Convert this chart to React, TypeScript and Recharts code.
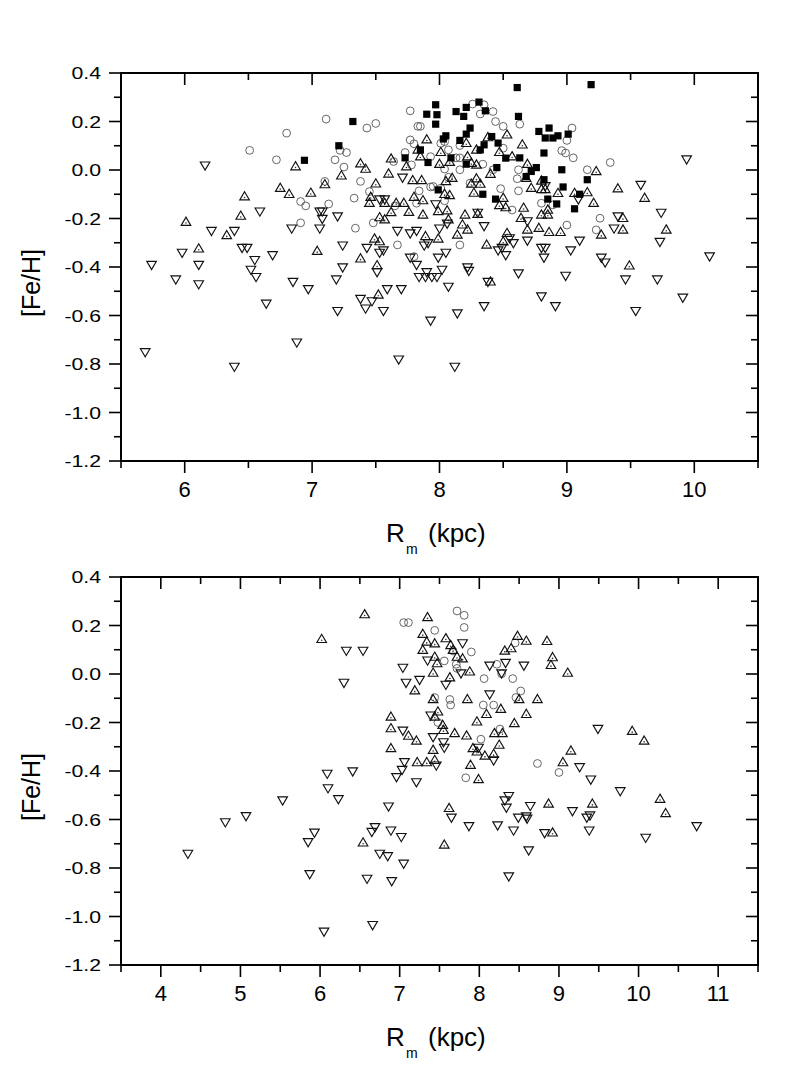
import React from 'react';
import { ScatterChart, Scatter, XAxis, YAxis, ReferenceArea } from 'recharts';

type P = [number, number];

// ---------- Upper panel ----------
const topCircles: P[] = [
  [6.51,0.081],[6.80,0.152],[6.72,0.042],[7.11,0.21],[7.43,0.173],[7.50,0.192],[7.18,0.042],[7.22,0.081],
  [7.27,0.072],[7.25,0.012],[7.10,-0.047],[7.13,-0.14],[6.91,-0.13],[6.95,-0.148],[6.91,-0.218],[7.34,-0.24],
  [7.33,-0.116],[7.38,-0.047],[7.45,-0.089],[7.48,-0.218],[7.67,-0.309],[7.64,0.035],[7.65,-0.148],[7.77,0.244],
  [7.83,0.18],[7.85,0.18],[7.77,0.124],[7.80,0.108],[7.73,0.072],[7.78,0.021],[7.84,-0.086],[7.82,-0.137],
  [7.80,-0.357],[7.93,-0.07],[7.93,0.055],
  [8.01,0.11],[8.04,0.117],[8.07,0.083],[8.16,0.101],[8.13,0.05],[8.16,0.05],[8.04,0.004],[8.16,0.001],
  [8.26,0.272],[8.32,0.231],[8.35,0.269],[8.42,0.241],[8.44,0.2],[8.50,0.18],[8.50,0.09],[8.34,0.024],
  [8.42,0.001],[8.07,-0.03],[7.95,-0.068],[8.01,-0.075],[8.04,-0.127],[8.16,-0.309],[8.24,-0.054],[8.48,-0.077],
  [8.63,0.189],[9.04,0.173],[9.00,0.122],[8.96,0.08],[8.99,0.07],[9.05,0.05],[9.34,0.031],[9.16,0.001],
  [8.62,0.001],[8.61,-0.036],[8.62,-0.086],[8.80,-0.137],[8.89,-0.144],[9.26,-0.199],[9.00,-0.227],[9.23,-0.247],
  [8.57,-0.165],
];

const topSquares: P[] = [
  [7.32,0.20],[7.21,0.10],[6.94,0.04],[7.90,0.23],[7.73,0.05],[7.85,0.083],[7.91,0.031],
  [7.97,0.269],[7.98,0.228],[7.97,0.189],[8.13,0.241],[8.21,0.258],[8.19,0.221],[8.31,0.28],[8.36,0.244],
  [8.24,0.173],[8.21,0.148],[8.05,0.141],[8.03,0.128],[8.16,0.122],[8.41,0.138],[8.46,0.111],[8.35,0.104],
  [8.32,0.083],[8.09,0.05],[8.21,0.024],[8.52,0.049],[8.45,0.01],[7.99,-0.082],[8.34,-0.10],[8.44,-0.12],
  [8.61,0.34],[9.19,0.352],[8.62,0.221],[8.78,0.159],[8.86,0.173],[8.83,0.132],[8.89,0.132],[8.93,0.141],
  [9.01,0.148],[8.82,0.07],[8.63,0.05],[8.76,0.01],[8.72,-0.006],[8.96,0.001],[9.16,-0.04],[8.82,-0.04],
  [8.97,-0.07],[9.10,-0.10],[8.85,-0.12],[8.92,-0.14],[9.06,-0.16],[8.68,-0.027],
];

const topUp: P[] = [
  [6.01,-0.215],[6.11,-0.325],[6.33,-0.27],[6.44,-0.19],[6.47,-0.11],[6.75,-0.075],[6.82,-0.10],[6.87,0.014],
  [6.99,-0.095],[7.04,-0.335],[7.10,-0.06],[7.23,-0.024],[7.38,0.026],[7.42,0.004],[7.50,-0.057],[7.38,-0.366],
  [7.45,-0.137],[7.46,-0.112],[7.49,-0.284],[7.53,-0.295],[7.51,-0.394],[7.52,-0.515],[7.53,-0.196],[7.57,-0.205],
  [7.57,-0.137],[7.60,-0.016],[7.62,-0.175],[7.62,0.046],[7.66,-0.137],[7.72,-0.137],[7.74,0.014],[7.76,-0.174],
  [7.79,-0.043],[7.86,-0.043],[7.80,-0.112],[7.87,-0.126],[7.87,-0.185],[7.83,0.083],[7.85,0.055],[7.90,0.125],
  [7.89,-0.274],
  [8.01,0.073],[8.00,0.024],[8.08,0.032],[8.21,0.11],[8.22,0.055],[8.29,0.083],[8.38,0.134],[8.53,0.145],
  [8.47,0.073],[8.25,0.028],[8.29,0.021],[8.40,-0.017],[8.10,-0.034],[8.05,-0.047],[8.04,-0.10],[8.08,-0.105],
  [8.29,-0.036],[8.25,-0.058],[8.32,-0.058],[8.27,-0.095],[8.50,-0.116],[8.47,-0.146],[8.52,-0.155],[7.99,-0.171],
  [8.06,-0.168],[8.07,-0.205],[8.20,-0.185],[8.30,-0.182],[8.18,-0.226],[8.22,-0.247],[8.14,-0.268],[7.99,-0.284],
  [8.37,-0.309],[8.53,-0.261],[8.50,-0.296],[8.40,-0.461],
  [8.65,0.104],[8.57,0.055],[8.69,0.024],[8.68,-0.034],[8.72,-0.075],[8.80,-0.045],[8.80,-0.08],[8.83,-0.08],
  [8.93,-0.096],[9.06,-0.096],[9.16,-0.093],[9.23,-0.006],[9.21,-0.137],[9.40,-0.077],[8.66,-0.157],[8.64,-0.199],
  [8.69,-0.247],[8.78,-0.24],[8.86,-0.257],[8.95,-0.257],[8.80,-0.185],[8.85,-0.185],[8.85,-0.165],[9.27,-0.268],
  [9.44,-0.199],[9.44,-0.247],[9.49,-0.395],[9.61,-0.116],[9.78,-0.247],
];

const topDown: P[] = [
  [6.16,0.02],[5.74,-0.39],[5.93,-0.45],[5.98,-0.34],[6.11,-0.39],[6.11,-0.47],[5.69,-0.75],[6.39,-0.81],
  [6.21,-0.25],[6.39,-0.25],[6.59,-0.17],[6.45,-0.32],[6.49,-0.32],[6.55,-0.37],[6.52,-0.41],[6.56,-0.44],
  [6.69,-0.35],[6.64,-0.55],[6.84,-0.24],[6.85,-0.46],[6.97,-0.49],[6.88,-0.71],[7.06,-0.17],[7.08,-0.17],
  [7.08,-0.2],[7.06,-0.24],[7.20,-0.19],[7.24,-0.31],[7.24,-0.4],[7.19,-0.45],[7.20,-0.58],[7.43,-0.32],
  [7.38,-0.53],[7.42,-0.57],[7.56,-0.58],[7.53,-0.34],[7.56,-0.33],[7.51,-0.42],[7.70,-0.49],[7.68,-0.78],
  [7.67,-0.25],[7.71,-0.03],[7.53,-0.12],[7.57,-0.12],[7.77,-0.26],[7.82,-0.25],[7.77,-0.36],[7.82,-0.39],
  [7.84,-0.44],[7.89,-0.44],[7.90,-0.42],[7.91,-0.3],[7.93,-0.62],[7.47,-0.54],[7.59,-0.49],
  [7.88,-0.31],[8.00,-0.24],[8.06,-0.22],[7.97,-0.14],[7.99,-0.36],[8.05,-0.34],[7.94,-0.44],[7.98,-0.44],
  [8.02,-0.41],[8.07,-0.48],[8.22,-0.4],[8.23,-0.415],[8.38,-0.46],[8.14,-0.59],[8.35,-0.56],[8.30,-0.175],
  [8.35,-0.23],[8.46,-0.33],[8.49,-0.32],[8.52,-0.35],
  [9.58,-0.06],[8.83,-0.065],[9.09,-0.12],[8.69,-0.21],[8.69,-0.29],[8.80,-0.32],[8.83,-0.32],[8.82,-0.36],
  [9.03,-0.33],[9.10,-0.29],[9.27,-0.36],[9.30,-0.38],[9.37,-0.24],[9.40,-0.19],[8.55,-0.28],[8.58,-0.30],
  [8.62,-0.425],[8.99,-0.435],[9.46,-0.45],[8.80,-0.52],[8.91,-0.56],[9.54,-0.58],
  [9.94,0.045],[9.74,-0.175],[9.73,-0.295],[10.12,-0.355],[9.71,-0.45],[9.91,-0.525],[8.12,-0.81],
];

// ---------- Lower panel ----------
const botCircles: P[] = [
  [7.05,0.212],[7.11,0.212],[7.72,0.26],[7.81,0.242],[7.81,0.192],[7.44,0.18],[7.90,0.091],[7.56,0.054],
  [7.71,0.04],[7.72,0.023],[8.06,-0.019],[8.22,0.04],[8.28,0.001],[8.42,-0.019],[8.52,-0.07],[8.46,-0.097],
  [7.63,-0.105],[7.64,-0.128],[7.44,-0.097],[8.05,-0.128],[8.18,-0.128],[7.48,-0.2],[8.26,-0.227],[8.02,-0.269],
  [8.73,-0.369],[9.00,-0.406],[7.83,-0.428],[7.67,0.095],[8.45,0.128],
];

const botUp: P[] = [
  [6.02,0.143],[6.56,0.245],[7.29,0.164],[7.35,0.233],[7.34,0.132],[7.29,0.098],[7.19,-0.069],[6.89,-0.177],
  [6.89,-0.225],[6.89,-0.307],[7.11,-0.256],[7.21,-0.276],[7.22,-0.365],[7.34,-0.365],[6.54,-0.696],
  [7.58,0.146],[7.44,0.125],[7.64,0.118],[7.44,0.07],[7.47,0.043],[7.67,0.098],[7.72,0.07],[7.79,0.063],
  [7.42,0.004],[7.63,-0.015],[7.88,0.009],[8.48,0.156],[8.59,0.136],[8.85,0.135],[8.32,0.095],[8.40,0.105],
  [8.92,0.068],[8.90,0.036],[9.11,0.004],[7.42,-0.105],[7.85,-0.105],[8.50,-0.105],[8.73,-0.105],[8.27,-0.145],
  [8.09,-0.166],[8.59,-0.166],[7.48,-0.156],[7.44,-0.177],[7.97,-0.197],[8.44,-0.204],[7.54,-0.211],[7.55,-0.232],
  [7.69,-0.245],[7.84,-0.255],[8.19,-0.245],[8.29,-0.245],[8.25,-0.293],[7.92,-0.307],[7.97,-0.321],[8.07,-0.338],
  [8.18,-0.331],[7.42,-0.314],[7.44,-0.356],[7.89,-0.376],[7.99,-0.435],[9.15,-0.317],[9.05,-0.365],[9.92,-0.236],
  [10.07,-0.276],[7.62,-0.554],[8.87,-0.536],[9.42,-0.536],[10.27,-0.516],[10.34,-0.575],[8.92,-0.655],[7.56,-0.705],
];

const botDown: P[] = [
  [4.34,-0.74],[4.81,-0.61],[5.07,-0.585],[5.53,-0.52],[6.09,-0.41],[6.10,-0.47],[6.23,-0.515],[6.41,-0.40],
  [6.33,0.097],[6.54,0.097],[6.30,-0.035],[5.93,-0.653],[5.85,-0.692],[5.87,-0.824],[6.05,-1.061],[6.66,-1.034],
  [6.59,-0.843],[6.69,-0.63],[6.65,-0.65],[6.86,-0.545],[6.89,-0.644],[6.75,-0.74],[6.85,-0.75],[6.90,-0.853],
  [7.02,-0.671],[7.05,-0.781],[7.04,0.027],[7.08,-0.035],[7.25,-0.023],[7.35,0.057],[7.04,-0.232],[7.06,-0.362],
  [7.03,-0.394],[6.96,-0.424],[7.21,-0.445],
  [7.79,0.128],[7.77,0.004],[7.58,-0.043],[8.13,0.036],[8.33,0.047],[8.56,0.036],[8.28,0.004],[8.13,-0.083],
  [7.42,-0.259],[7.55,-0.28],[7.56,-0.303],[7.99,-0.303],[8.18,-0.355],[9.49,-0.225],[9.26,-0.383],[9.40,-0.434],
  [9.77,-0.482],[8.37,-0.502],[8.32,-0.52],[8.34,-0.55],[8.64,-0.543],[8.49,-0.591],[8.59,-0.586],[8.60,-0.595],
  [7.65,-0.591],[7.87,-0.626],[8.23,-0.623],[8.43,-0.644],[8.82,-0.655],[9.17,-0.564],[9.35,-0.591],[9.39,-0.582],
  [9.38,-0.644],[10.73,-0.626],[10.09,-0.674],[8.62,-0.726],[8.37,-0.833],
  [7.39,-0.17],[7.46,-0.376],
];

// ---------- Axes ----------
const topXTicks = [5.5, 6, 6.5, 7, 7.5, 8, 8.5, 9, 9.5, 10, 10.5];
const botXTicks = [3.5, 4, 4.5, 5, 5.5, 6, 6.5, 7, 7.5, 8, 8.5, 9, 9.5, 10, 10.5, 11, 11.5];
const yTicks = [-1.2, -1.1, -1.0, -0.9, -0.8, -0.7, -0.6, -0.5, -0.4, -0.3, -0.2, -0.1, 0, 0.1, 0.2, 0.3, 0.4];
const yDomain: [number, number] = [-1.2, 0.4];
const xTitleMain = 'R';
const xTitleSub = 'm';
const xTitleUnit = '(kpc)';
const yTitle = '[Fe/H]';

const FONT = '"Liberation Sans", Arial, Helvetica, sans-serif';
const W = 797;
const H = 520;
const MARGIN = { top: 73, right: 39, left: 61, bottom: 19 };
const PW = W - MARGIN.left - 60 - MARGIN.right; // plot width
const PH = H - MARGIN.top - MARGIN.bottom - 40; // plot height

const toPts = (a: P[]) => a.map(([x, y]) => ({ x, y }));

const XTick = (props: any) => {
  const { x, y, payload } = props;
  const v = payload.value as number;
  const major = Number.isInteger(v);
  const len = major ? 12 : 7;
  return (
    <g>
      <line x1={x} y1={y} x2={x} y2={y + len} stroke="#000" strokeWidth={1.6} />
      <line x1={x} y1={y - PH} x2={x} y2={y - PH + len} stroke="#000" strokeWidth={1.6} />
      {major && (
        <text x={x} y={y + 36} textAnchor="middle" fontSize={22} fontFamily={FONT} fill="#000">
          {String(v)}
        </text>
      )}
    </g>
  );
};

const YTick = (props: any) => {
  const { x, y, payload } = props;
  const v = payload.value as number;
  const major = Math.abs(Math.round(v * 10)) % 2 === 0;
  const len = major ? 12 : 7;
  return (
    <g>
      <line x1={x} y1={y} x2={x - len} y2={y} stroke="#000" strokeWidth={1.6} />
      <line x1={x + PW} y1={y} x2={x + PW - len} y2={y} stroke="#000" strokeWidth={1.6} />
      {major && (
        <text
          x={0}
          y={0}
          transform={`translate(${x - 20},${y + 6}) scale(1.25,1)`}
          textAnchor="end"
          fontSize={17}
          fontFamily={FONT}
          fill="#000"
        >
          {v.toFixed(1)}
        </text>
      )}
    </g>
  );
};

const CircleShape = (p: any) => (
  <circle cx={p.cx} cy={p.cy} r={3.9} fill="none" stroke="#555" strokeWidth={0.9} />
);
const SquareShape = (p: any) => (
  <rect x={p.cx - 3.6} y={p.cy - 3.6} width={7.2} height={7.2} fill="#000" />
);
const UpShape = (p: any) => (
  <g>
    <polygon
      points={`${p.cx},${p.cy - 5} ${p.cx + 4.8},${p.cy + 3.2} ${p.cx - 4.8},${p.cy + 3.2}`}
      fill="none"
      stroke="#111"
      strokeWidth={1.15}
    />
    <circle cx={p.cx} cy={p.cy + 0.9} r={0.8} fill="#333" />
  </g>
);
const DownShape = (p: any) => (
  <polygon
    points={`${p.cx - 4.8},${p.cy - 3.2} ${p.cx + 4.8},${p.cy - 3.2} ${p.cx},${p.cy + 5}`}
    fill="none"
    stroke="#111"
    strokeWidth={1.15}
  />
);

type PanelProps = {
  xDomain: [number, number];
  xTicks: number[];
  circles: P[];
  up: P[];
  down: P[];
  squares?: P[];
};

const Panel = ({ xDomain, xTicks, circles, up, down, squares }: PanelProps) => (
  <ScatterChart width={W} height={H} margin={MARGIN}>
    <XAxis
      type="number"
      dataKey="x"
      domain={xDomain}
      ticks={xTicks}
      interval={0}
      allowDataOverflow
      axisLine={false}
      tickLine={false}
      tickSize={0}
      tickMargin={0}
      height={40}
      tick={XTick}
    />
    <YAxis
      type="number"
      dataKey="y"
      domain={yDomain}
      ticks={yTicks}
      interval={0}
      allowDataOverflow
      axisLine={false}
      tickLine={false}
      tickSize={0}
      tickMargin={0}
      width={60}
      tick={YTick}
    />
    <ReferenceArea
      x1={xDomain[0]}
      x2={xDomain[1]}
      y1={yDomain[0]}
      y2={yDomain[1]}
      fill="none"
      fillOpacity={0}
      stroke="#000"
      strokeWidth={2}
      strokeOpacity={1}
    />
    <Scatter data={toPts(circles)} shape={CircleShape} isAnimationActive={false} />
    <Scatter data={toPts(up)} shape={UpShape} isAnimationActive={false} />
    <Scatter data={toPts(down)} shape={DownShape} isAnimationActive={false} />
    {squares && <Scatter data={toPts(squares)} shape={SquareShape} isAnimationActive={false} />}
  </ScatterChart>
);

const Titles = ({ dy }: { dy: number }) => (
  <g fontFamily={FONT} fill="#000">
    <text x={386} y={542 + dy} fontSize={26}>{xTitleMain}</text>
    <text x={406} y={554 + dy} fontSize={14}>{xTitleSub}</text>
    <text x={428} y={542 + dy} fontSize={26}>{xTitleUnit}</text>
    <text transform={`translate(40,${283 + dy}) rotate(-90)`} textAnchor="middle" fontSize={25}>
      {yTitle}
    </text>
  </g>
);

export default function App() {
  return (
    <div style={{ position: 'absolute', left: 0, top: 0, width: W, height: 1078, background: '#fff' }}>
      <div style={{ position: 'absolute', left: 0, top: 0 }}>
        <Panel xDomain={[5.5, 10.5]} xTicks={topXTicks} circles={topCircles} up={topUp} down={topDown} squares={topSquares} />
      </div>
      <div style={{ position: 'absolute', left: 0, top: 504 }}>
        <Panel xDomain={[3.5, 11.5]} xTicks={botXTicks} circles={botCircles} up={botUp} down={botDown} />
      </div>
      <svg
        width={W}
        height={1078}
        style={{ position: 'absolute', left: 0, top: 0, pointerEvents: 'none' }}
      >
        <Titles dy={0} />
        <Titles dy={504} />
      </svg>
    </div>
  );
}
